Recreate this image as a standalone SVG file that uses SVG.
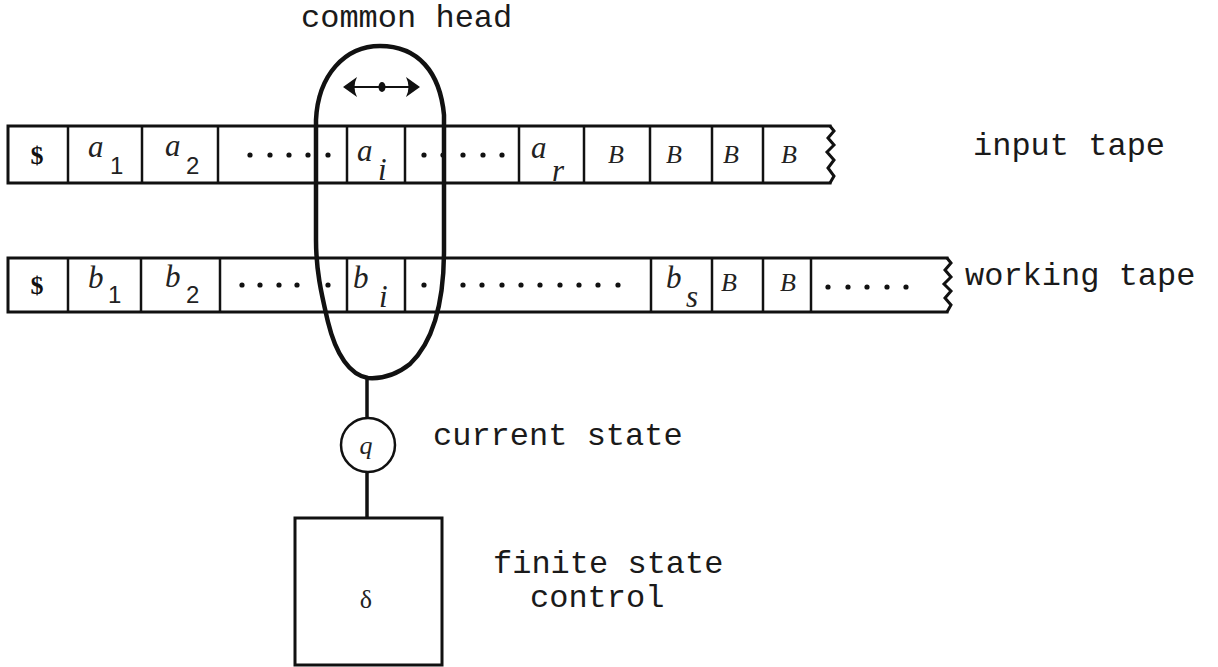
<svg xmlns="http://www.w3.org/2000/svg" width="1218" height="667" viewBox="0 0 1218 667">
<style>
.tape{fill:none;stroke:#111;stroke-width:3;stroke-linecap:square}
.div{stroke:#111;stroke-width:2.5}
.lbl{font-family:"Liberation Mono",monospace;font-size:32px;fill:#1a1a1a}
.it{font-family:"Liberation Serif",serif;font-style:italic;font-size:31px;fill:#222}
.bb{font-family:"Liberation Serif",serif;font-style:italic;font-size:26px;fill:#222}
.sub{font-family:"Liberation Sans",sans-serif;font-size:24px;fill:#222}
.dol{font-family:"Liberation Serif",serif;font-weight:bold;font-size:26px;fill:#111;text-anchor:middle}
.dot{fill:#111}
</style>
<rect width="1218" height="667" fill="#fff"/>

<g id="input-tape">
  <polyline class="tape" points="830,126 8,126 8,183 830,183"/>
  <polyline fill="none" stroke="#111" stroke-width="3" points="830,126 834,131 828,138 834,145 827,152 834,160 828,168 834,176 830,183"/>
  <g class="div">
    <line x1="68" y1="126" x2="68" y2="183"/>
    <line x1="142" y1="126" x2="142" y2="183"/>
    <line x1="218" y1="126" x2="218" y2="183"/>
    <line x1="347" y1="126" x2="347" y2="183"/>
    <line x1="405" y1="126" x2="405" y2="183"/>
    <line x1="519" y1="126" x2="519" y2="183"/>
    <line x1="584" y1="126" x2="584" y2="183"/>
    <line x1="650" y1="126" x2="650" y2="183"/>
    <line x1="712" y1="126" x2="712" y2="183"/>
    <line x1="763" y1="126" x2="763" y2="183"/>
  </g>
  <text class="dol" x="37" y="164">$</text>
  <text class="it" x="88" y="157">a</text><text class="sub" x="110" y="174">1</text>
  <text class="it" x="165" y="156">a</text><text class="sub" x="186" y="174">2</text>
  <g class="dot">
    <circle cx="250" cy="155" r="2.6"/><circle cx="270" cy="155" r="2.6"/><circle cx="289" cy="155" r="2.6"/><circle cx="308" cy="155" r="2.6"/><circle cx="328" cy="155" r="2.6"/>
    <circle cx="424" cy="155" r="2.6"/><circle cx="443" cy="155" r="2.6"/><circle cx="463" cy="155" r="2.6"/><circle cx="483" cy="155" r="2.6"/><circle cx="502" cy="155" r="2.6"/>
  </g>
  <text class="it" x="357" y="161">a</text><text class="it" x="378" y="180">i</text>
  <text class="it" x="531" y="158">a</text><text class="it" x="552" y="181">r</text>
  <text class="bb" x="608" y="163">B</text>
  <text class="bb" x="666" y="163">B</text>
  <text class="bb" x="723" y="163">B</text>
  <text class="bb" x="781" y="163">B</text>
  <text class="lbl" x="973" y="155">input tape</text>
</g>

<g id="working-tape">
  <polyline class="tape" points="947,258 8,258 8,312 947,312"/>
  <polyline fill="none" stroke="#111" stroke-width="3" points="947,258 951,263 945,270 951,277 944,284 951,291 945,298 951,305 947,312"/>
  <g class="div">
    <line x1="68" y1="258" x2="68" y2="312"/>
    <line x1="141" y1="258" x2="141" y2="312"/>
    <line x1="220" y1="258" x2="220" y2="312"/>
    <line x1="347" y1="258" x2="347" y2="312"/>
    <line x1="405" y1="258" x2="405" y2="312"/>
    <line x1="651" y1="258" x2="651" y2="312"/>
    <line x1="712" y1="258" x2="712" y2="312"/>
    <line x1="763" y1="258" x2="763" y2="312"/>
    <line x1="811" y1="258" x2="811" y2="312"/>
  </g>
  <text class="dol" x="37" y="294">$</text>
  <text class="it" x="88" y="288">b</text><text class="sub" x="108" y="303">1</text>
  <text class="it" x="165" y="287">b</text><text class="sub" x="186" y="303">2</text>
  <g class="dot">
    <circle cx="242" cy="285" r="2.6"/><circle cx="260" cy="285" r="2.6"/><circle cx="279" cy="285" r="2.6"/><circle cx="297" cy="285" r="2.6"/><circle cx="328" cy="285" r="2.6"/>
    <circle cx="424" cy="285" r="2.6"/><circle cx="463" cy="285" r="2.6"/><circle cx="482" cy="285" r="2.6"/><circle cx="502" cy="285" r="2.6"/><circle cx="521" cy="285" r="2.6"/><circle cx="540" cy="285" r="2.6"/><circle cx="560" cy="285" r="2.6"/><circle cx="579" cy="285" r="2.6"/><circle cx="598" cy="285" r="2.6"/><circle cx="618" cy="285" r="2.6"/>
    <circle cx="828" cy="287" r="2.6"/><circle cx="848" cy="287" r="2.6"/><circle cx="867" cy="287" r="2.6"/><circle cx="887" cy="287" r="2.6"/><circle cx="906" cy="287" r="2.6"/>
  </g>
  <text class="it" x="353" y="288">b</text><text class="it" x="379" y="307">i</text>
  <text class="it" x="666" y="288">b</text><text class="it" x="686" y="307">s</text>
  <text class="bb" x="721" y="291">B</text>
  <text class="bb" x="780" y="291">B</text>
  <text class="lbl" x="965" y="285">working tape</text>
</g>

<g id="common-head">
  <path d="M380,46 C418,46 440,72 444,115 L444,250 C444,300 435,340 410,364 C395,376 382,379 368,378 C350,375 336,355 328,322 C322,296 316,272 316,240 L316,120 C318,75 345,46 380,46 Z" fill="none" stroke="#111" stroke-width="4.5"/>
  <line x1="352" y1="87" x2="410" y2="87" stroke="#111" stroke-width="2"/>
  <path d="M343,87 L357,77 Q352,87 357,97 Z" fill="#111"/>
  <path d="M420,87 L406,77 Q411,87 406,97 Z" fill="#111"/>
  <ellipse cx="382" cy="87" rx="3.5" ry="5" fill="#111"/>
  <text class="lbl" x="301" y="27">common head</text>
</g>

<g id="connectors">
  <line x1="367" y1="377" x2="367" y2="418" stroke="#111" stroke-width="3.5"/>
  <line x1="367" y1="472" x2="367" y2="518" stroke="#111" stroke-width="3.5"/>
</g>

<g id="current-state">
  <circle cx="368" cy="445" r="27" fill="#fff" stroke="#111" stroke-width="2.5"/>
  <text class="bb" x="366" y="454" text-anchor="middle" font-size="28">q</text>
  <text class="lbl" x="433" y="445">current state</text>
</g>

<g id="finite-state-control">
  <rect x="295" y="518" width="147" height="147" fill="none" stroke="#111" stroke-width="3"/>
  <text x="366" y="608" text-anchor="middle" font-family="Liberation Serif, serif" font-size="26" fill="#222">δ</text>
  <text class="lbl" x="493" y="573" font-size="30">finite state</text>
  <text class="lbl" x="530" y="607" font-size="30">control</text>
</g>
</svg>
